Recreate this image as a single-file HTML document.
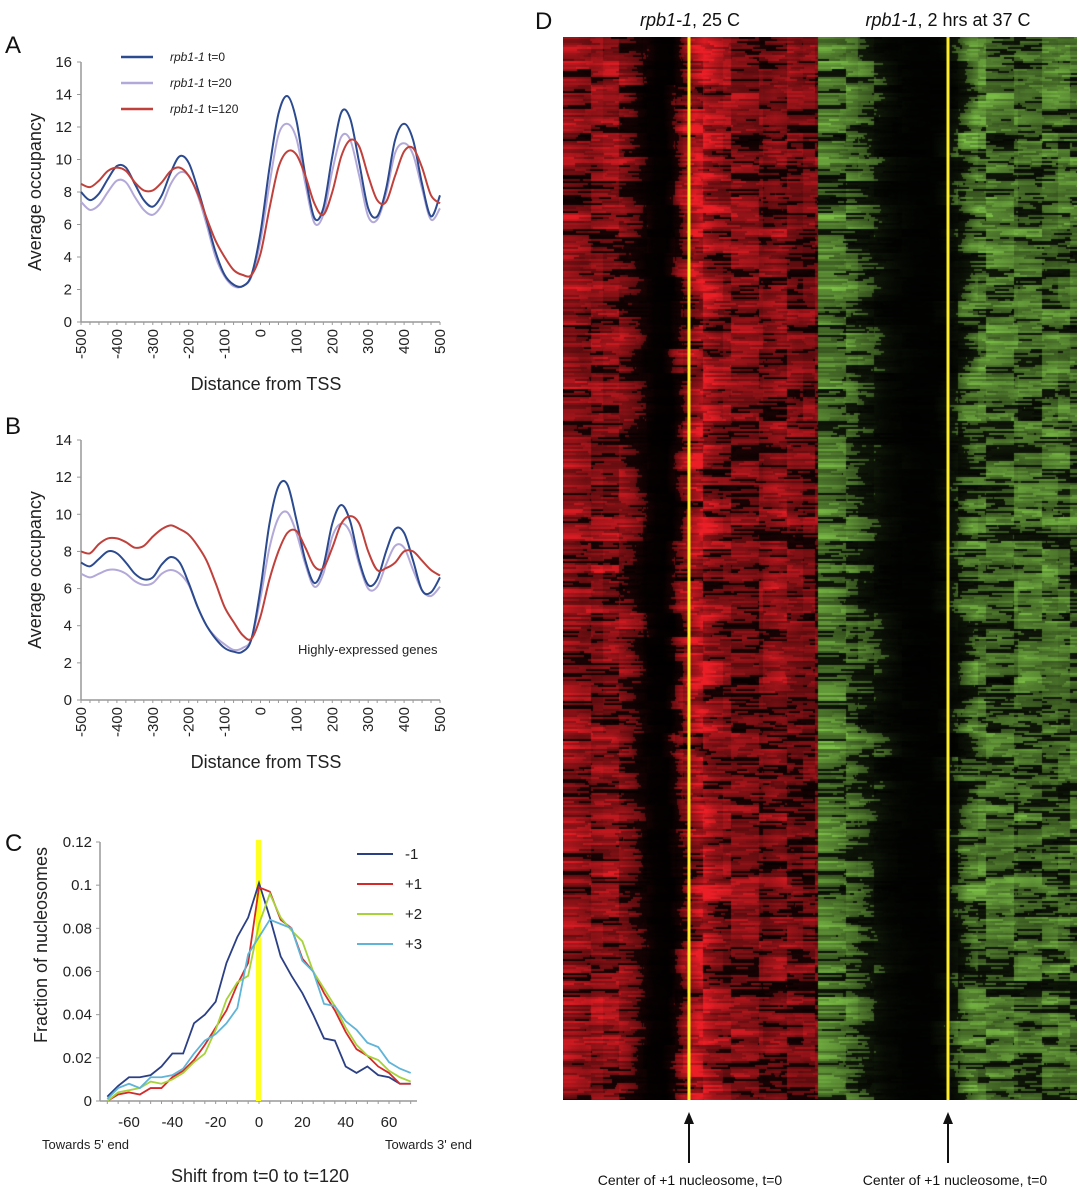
<!DOCTYPE html>
<html><head><meta charset="utf-8">
<style>
html,body{margin:0;padding:0;background:#fff;}
#root{position:relative;width:1080px;height:1190px;overflow:hidden;font-family:"Liberation Sans",Arial,sans-serif;}
svg text{font-family:"Liberation Sans",Arial,sans-serif;}
#heat{position:absolute;left:563px;top:37px;}
</style></head>
<body>
<div id="root">
<canvas id="heat" width="514" height="1063"></canvas>
<svg id="svg" width="1080" height="1190" style="position:absolute;left:0;top:0"></svg>
</div>
<script>
// ---------- Panel A data ----------
const xA = [];
for (let v=-500; v<=500; v+=25) xA.push(v);
const aT0 = [8.0,7.5,7.9,8.8,9.6,9.5,8.5,7.5,7.1,7.8,9.2,10.2,9.8,8.2,6.3,4.3,2.9,2.3,2.2,2.9,5.5,9.5,12.8,13.9,12.4,9.0,6.4,7.0,10.2,12.9,12.5,9.8,7.0,6.5,8.2,11.2,12.2,11.2,8.5,6.5,7.8];
const aT20 = [7.4,6.9,7.2,8.0,8.7,8.6,7.7,6.9,6.6,7.2,8.5,9.2,9.0,7.8,6.0,4.0,2.8,2.2,2.2,2.8,5.0,8.5,11.5,12.2,11.3,8.5,6.1,6.6,9.3,11.4,11.2,9.0,6.5,6.3,7.9,10.4,11.0,10.3,8.2,6.3,7.0];
const aT120 = [8.5,8.3,8.7,9.3,9.5,9.3,8.6,8.1,8.1,8.6,9.3,9.5,9.0,7.9,6.4,5.0,4.0,3.2,2.9,2.9,4.2,7.0,9.5,10.5,10.3,9.0,7.3,6.6,8.0,10.2,11.2,10.8,9.0,7.5,7.4,9.0,10.5,10.7,9.5,7.8,7.3];
const aYTicks = [0,2,4,6,8,10,12,14,16];
// ---------- Panel B data ----------
const bT0 = [7.4,7.2,7.6,8.0,7.9,7.4,6.8,6.5,6.6,7.3,7.7,7.4,6.3,5.0,4.0,3.3,2.8,2.6,2.6,3.3,6.0,9.5,11.5,11.6,9.7,7.5,6.3,7.2,9.5,10.5,9.6,7.5,6.2,6.5,8.0,9.2,9.0,7.5,5.9,5.8,6.6];
const bT20 = [6.8,6.6,6.8,7.0,7.0,6.8,6.4,6.2,6.3,6.8,7.0,6.8,6.2,5.0,4.0,3.4,3.0,2.7,2.8,3.3,5.5,8.2,9.8,10.1,9.0,7.3,6.1,6.8,8.8,9.5,9.0,7.3,6.0,6.1,7.3,8.3,8.2,7.0,5.9,5.6,6.1];
const bT120 = [8.0,7.9,8.4,8.7,8.7,8.5,8.2,8.3,8.8,9.2,9.4,9.2,8.9,8.3,7.5,6.3,5.0,4.2,3.5,3.3,4.5,6.5,8.0,9.0,9.1,8.2,7.2,7.1,8.2,9.5,9.9,9.5,8.0,7.0,7.1,7.4,8.0,8.0,7.5,7.0,6.7];
const bYTicks = [0,2,4,6,8,10,12,14];
const xTicksAB = [-500,-400,-300,-200,-100,0,100,200,300,400,500];
// ---------- Panel C data ----------
const xC = [];
for (let v=-70; v<=70; v+=5) xC.push(v);
const cM1 = [0.002,0.007,0.011,0.011,0.012,0.016,0.022,0.022,0.036,0.040,0.046,0.064,0.076,0.085,0.101,0.085,0.067,0.058,0.050,0.040,0.029,0.028,0.016,0.013,0.016,0.012,0.011,0.008,0.008];
const cP1 = [0.000,0.003,0.004,0.003,0.006,0.006,0.011,0.014,0.019,0.026,0.034,0.042,0.054,0.064,0.099,0.097,0.084,0.080,0.066,0.060,0.050,0.042,0.032,0.024,0.021,0.016,0.013,0.008,0.008];
const cP2 = [0.000,0.004,0.005,0.006,0.009,0.008,0.010,0.013,0.018,0.022,0.033,0.047,0.055,0.058,0.082,0.096,0.085,0.079,0.074,0.060,0.052,0.044,0.034,0.026,0.021,0.019,0.014,0.011,0.009];
const cP3 = [0.001,0.006,0.008,0.006,0.011,0.011,0.012,0.015,0.022,0.028,0.031,0.036,0.043,0.068,0.076,0.084,0.082,0.080,0.065,0.060,0.045,0.044,0.037,0.033,0.027,0.025,0.018,0.015,0.013];
const cYTicks = [0,0.02,0.04,0.06,0.08,0.1,0.12];
const cYLabels = ["0","0.02","0.04","0.06","0.08","0.1","0.12"];
const cXTicks = [-60,-40,-20,0,20,40,60];
// ---------- Panel D column profiles ----------
const redProfile = [0.6,0.5,0.55,0.55,0.4,0.08,0.04,0.5,0.75,0.55,0.5,0.5,0.45,0.55,0.45,0.45];
const greenProfile = [0.55,0.5,0.4,0.3,0.12,0.06,0.04,0.05,0.25,0.5,0.5,0.45,0.5,0.45,0.5,0.45];

const NS="http://www.w3.org/2000/svg";
const svg=document.getElementById('svg');
function mk(tag,attrs,parent,txt){const e=document.createElementNS(NS,tag);for(const k in attrs)e.setAttribute(k,attrs[k]);if(txt!==undefined)e.textContent=txt;(parent||svg).appendChild(e);return e;}
function smoothPath(pts){let d='M'+pts[0][0]+','+pts[0][1];for(let i=0;i<pts.length-1;i++){const p0=pts[Math.max(0,i-1)],p1=pts[i],p2=pts[i+1],p3=pts[Math.min(pts.length-1,i+2)];const c1x=p1[0]+(p2[0]-p0[0])/6,c1y=p1[1]+(p2[1]-p0[1])/6,c2x=p2[0]-(p3[0]-p1[0])/6,c2y=p2[1]-(p3[1]-p1[1])/6;d+=' C'+c1x.toFixed(1)+','+c1y.toFixed(1)+' '+c2x.toFixed(1)+','+c2y.toFixed(1)+' '+p2[0].toFixed(1)+','+p2[1].toFixed(1);}return d;}

function occPanel(name,y0,y1,ymax,yticks,series,titleY){
  const g=mk('g',{});
  
  
  const sx=v=>81+(v+500)*0.359;
  const sy=v=>y0-(v/ymax)*(y0-y1);
  mk('line',{x1:81,y1:y1,x2:81,y2:y0,stroke:'#999','stroke-width':1.5},g);
  mk('line',{x1:81,y1:y0,x2:440,y2:y0,stroke:'#999','stroke-width':1.5},g);
  yticks.forEach(t=>{
    mk('line',{x1:77,y1:sy(t),x2:81,y2:sy(t),stroke:'#999'},g);
    const tx=mk('text',{x:72,y:sy(t)+5,'text-anchor':'end','font-size':15,fill:'#222'},g,String(t));
    
    
  });
  for(let v=-500;v<=500;v+=25){mk('line',{x1:sx(v),y1:y0,x2:sx(v),y2:y0+3,stroke:'#999'},g);}
  xTicksAB.forEach(t=>{
    const x=sx(t);
    const tx=mk('text',{x:0,y:0,'text-anchor':'end','font-size':15,fill:'#222',transform:'translate('+(x+5)+','+(y0+7)+') rotate(-90)'},g,String(t));
    
    
  });
  const yt=mk('text',{x:0,y:0,'text-anchor':'middle','font-size':18,fill:'#222',transform:'translate(41,'+((y0+y1)/2)+') rotate(-90)'},g,'Average occupancy');
  
  
  const xt=mk('text',{x:266,y:titleY,'text-anchor':'middle','font-size':18,fill:'#222'},g,'Distance from TSS');
  
  
  series.forEach(s=>{
    const pts=xA.map((v,i)=>[sx(v),sy(s.d[i])]);
    const p=mk('path',{d:smoothPath(pts),fill:'none',stroke:s.c,'stroke-width':2},g);
    
    
  });
}
occPanel('panel-a-chart',322,62,16,aYTicks,[{d:aT20,c:'#b3a9d9',n:'line-t20'},{d:aT0,c:'#2b4a8f',n:'line-t0'},{d:aT120,c:'#c0413c',n:'line-t120'}],390);
occPanel('panel-b-chart',700,440,14,bYTicks,[{d:bT20,c:'#b3a9d9',n:'line-t20'},{d:bT0,c:'#2b4a8f',n:'line-t0'},{d:bT120,c:'#c0413c',n:'line-t120'}],768);

// legend A
[['#2b4a8f','t=0',57],['#b3a9d9','t=20',83],['#c0413c','t=120',109]].forEach(l=>{
  const g=mk('g',{});
  
  
  mk('line',{x1:121,y1:l[2],x2:153,y2:l[2],stroke:l[0],'stroke-width':2.5},g);
  const t=mk('text',{x:170,y:l[2]+4,'font-size':12,fill:'#222'},g);
  mk('tspan',{'font-style':'italic'},t,'rpb1-1');
  mk('tspan',{},t,' '+l[1]);
});
const hl=mk('text',{x:298,y:654,'font-size':13,fill:'#222'},svg,'Highly-expressed genes');



// Panel C
(function(){
  const g=mk('g',{});
  
  
  const sx=v=>259+v*2.167, y0=1101, y1=842;
  const sy=v=>y0-(v/0.12)*(y0-y1);
  mk('line',{x1:100,y1:y1,x2:100,y2:y0,stroke:'#999','stroke-width':1.5},g);
  mk('line',{x1:100,y1:y0,x2:417,y2:y0,stroke:'#999','stroke-width':1.5},g);
  cYTicks.forEach((t,i)=>{
    mk('line',{x1:96,y1:sy(t),x2:100,y2:sy(t),stroke:'#999'},g);
    const tx=mk('text',{x:92,y:sy(t)+5,'text-anchor':'end','font-size':15,fill:'#222'},g,cYLabels[i]);
    
    
  });
  for(let v=-70;v<=70;v+=5)mk('line',{x1:sx(v),y1:y0,x2:sx(v),y2:y0+3,stroke:'#999'},g);
  cXTicks.forEach(t=>{
    const tx=mk('text',{x:sx(t),y:1127,'text-anchor':'middle','font-size':15,fill:'#222'},g,String(t));
    
    
  });
  const yb=mk('rect',{x:sx(0)-3,y:840,width:5,height:261,fill:'#ffff20'},g);
  
  
  [[cM1,'#2b3f85','line-minus1'],[cP1,'#d42a2a','line-plus1'],[cP2,'#a6d23a','line-plus2'],[cP3,'#5fb4d8','line-plus3']].forEach(s=>{
    const p=mk('polyline',{points:xC.map((v,i)=>sx(v)+','+sy(s[0][i])).join(' '),fill:'none',stroke:s[1],'stroke-width':1.8},g);
    
    
  });
  [['#2b3f85','-1',854],['#d42a2a','+1',884],['#a6d23a','+2',914],['#5fb4d8','+3',944]].forEach(l=>{
    const lg=mk('g',{},g);
    
    
    mk('line',{x1:357,y1:l[2],x2:393,y2:l[2],stroke:l[0],'stroke-width':2},lg);
    mk('text',{x:405,y:l[2]+5,'font-size':15,fill:'#222'},lg,l[1]);
  });
  const yt=mk('text',{x:0,y:0,'text-anchor':'middle','font-size':18,fill:'#222',transform:'translate(47,945) rotate(-90)'},g,'Fraction of nucleosomes');
  
  
  const t5=mk('text',{x:42,y:1149,'font-size':13,fill:'#222'},g,"Towards 5' end");
  
  
  const t3=mk('text',{x:385,y:1149,'font-size':13,fill:'#222'},g,"Towards 3' end");
  
  
  const xt=mk('text',{x:260,y:1182,'text-anchor':'middle','font-size':18,fill:'#222'},g,'Shift from t=0 to t=120');
  
  
})();

// panel letters
[['A',5,53],['B',5,434],['C',5,851],['D',535,29]].forEach(l=>{
  const t=mk('text',{x:l[1],y:l[2],'font-size':24,fill:'#111'},svg,l[0]);
  
  
});
// D titles
function dTitle(x,rest,name){const t=mk('text',{x:x,y:26,'text-anchor':'middle','font-size':18,fill:'#111'});mk('tspan',{'font-style':'italic'},t,'rpb1-1');mk('tspan',{},t,rest);}
dTitle(690,', 25 C','heatmap-title-25c');
dTitle(948,', 2 hrs at 37 C','heatmap-title-37c');
// yellow lines
[689,948].forEach(x=>{const r=mk('rect',{x:x-1.5,y:37,width:3,height:1063,fill:'#ffee22'});});
// arrows + labels
[[689,690],[948,955]].forEach(a=>{
  const g=mk('g',{});
  
  
  mk('line',{x1:a[0],y1:1163,x2:a[0],y2:1118,stroke:'#111','stroke-width':2},g);
  mk('path',{d:'M'+(a[0]-5)+',1124 L'+a[0]+',1112 L'+(a[0]+5)+',1124 Z',fill:'#111'},g);
  mk('text',{x:a[1],y:1185,'text-anchor':'middle','font-size':14,fill:'#111'},g,'Center of +1 nucleosome, t=0');
});

// Heatmap
(function(){
  const cv=document.getElementById('heat'),ctx=cv.getContext('2d');
  const W=514,H=1063,half=255;
  ctx.fillStyle='#000';ctx.fillRect(0,0,W,H);
  function h(a,b){let n=(a*374761393+b*668265263)|0;n=(n^(n>>>13))*1274126177|0;n=n^(n>>>16);return ((n>>>0)%10000)/10000;}
  function prof(p,x,w){const f=x/w*p.length-0.5;const i=Math.max(0,Math.min(p.length-1,Math.floor(f)));const j=Math.min(p.length-1,i+1);const t=Math.max(0,Math.min(1,f-i));return p[i]*(1-t)+p[j]*t;}
  const img=ctx.createImageData(W,H);
  for(let y=0;y<H;y++){
    const row=Math.floor(y/2),blk=Math.floor(y/24);
    const shiftR=(h(blk,7)-0.5)*14, shiftG=(h(blk,11)-0.5)*22;
    for(let x=0;x<W;x++){
      const red=x<half;
      const lx=red?x:x-half,lw=red?half:W-half;
      const sx=Math.max(0,Math.min(lw-1,lx+(red?shiftR:shiftG)));
      const base=prof(red?redProfile:greenProfile,sx,lw);
      const seg=Math.floor(lx/(10+h(row,3)*20));
      const n=0.35*h(row,seg+100)+0.45*h(Math.floor(row/4),Math.floor(lx/28)+200)+0.2*h(blk,Math.floor(lx/40)+300);
      let v=base*1.35*(0.1+n*1.3);
      v=Math.max(0,Math.min(1,v));
      if(v<0.38)v*=0.3;
      const k=(y*W+x)*4;
      if(red){img.data[k]=235*v;img.data[k+1]=30*v;img.data[k+2]=38*v;}
      else{img.data[k]=140*v;img.data[k+1]=215*v;img.data[k+2]=80*v;}
      img.data[k+3]=255;
    }
  }
  ctx.putImageData(img,0,0);
})();
</script>
</body></html>
